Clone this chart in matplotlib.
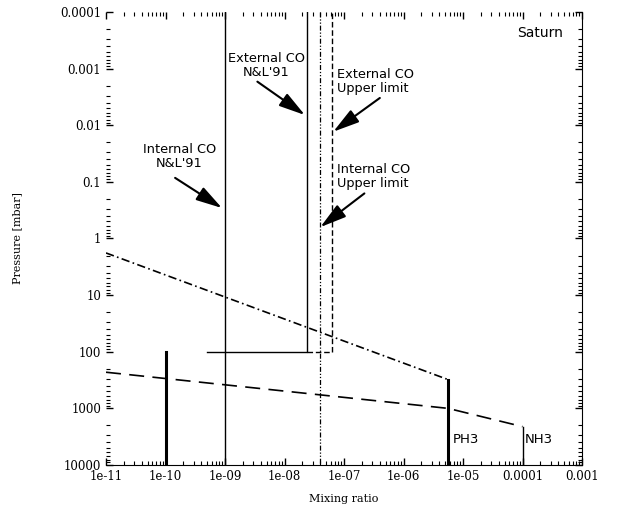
import matplotlib
matplotlib.use("Agg")
import matplotlib.pyplot as plt
from matplotlib.ticker import FixedLocator, LogLocator, NullFormatter

# profile lines (mixing ratio, pressure in mbar)
ph3_x = [1e-11, 5.6e-6, 5.6e-6]
ph3_p = [1.8, 310, 10000]
nh3_x = [1e-11, 5.6e-6, 1e-4]
nh3_p = [230, 1000, 2100]
nh3_vert_x = [1e-4, 1e-4]
nh3_vert_p = [2100, 10000]

# CO profiles
int_nl_x = [1e-9, 1e-9]
int_nl_p = [1e-4, 1e4]
ext_nl_x = [5e-10, 2.4e-8, 2.4e-8]
ext_nl_p = [100, 100, 1e-4]
ext_up_x = [2.4e-8, 6.3e-8, 6.3e-8]
ext_up_p = [100, 100, 1e-4]
int_up_x = [4e-8, 4e-8]
int_up_p = [1e-4, 1e4]
bar_x = [1e-10, 1e-10]
bar_p = [100, 10000]

xticks = [1e-11, 1e-10, 1e-9, 1e-8, 1e-7, 1e-6, 1e-5, 1e-4, 1e-3]
xlabels = ["1e-11", "1e-10", "1e-09", "1e-08", "1e-07", "1e-06", "1e-05", "0.0001", "0.001"]
yticks = [1e-4, 1e-3, 1e-2, 1e-1, 1, 10, 100, 1000, 10000]
ylabels = ["0.0001", "0.001", "0.01", "0.1", "1", "10", "100", "1000", "10000"]

fig = plt.figure(figsize=(6.17, 5.12), dpi=100)
ax = fig.add_axes([0.1718, 0.0918, 0.7715, 0.8848])

ax.plot(ph3_x[:2], ph3_p[:2], color="black", lw=1.2, ls=(0, (5, 2, 1, 2)))
ax.plot(ph3_x[1:], ph3_p[1:], color="black", lw=2.2)
ax.plot(nh3_x, nh3_p, color="black", lw=1.2, ls=(0, (9, 5)))
ax.plot(nh3_vert_x, nh3_vert_p, color="black", lw=1.0)

ax.plot(int_nl_x, int_nl_p, color="black", lw=1.0)
ax.plot(ext_nl_x, ext_nl_p, color="black", lw=1.0)
ax.plot(ext_up_x, ext_up_p, color="black", lw=1.0, ls=(0, (4, 2)))
ax.plot(int_up_x, int_up_p, color="black", lw=0.9, ls=(0, (4, 1.5, 1, 1.5, 1, 1.5)))
ax.plot(bar_x, bar_p, color="black", lw=2.2)

ax.set_xscale("log")
ax.set_yscale("log")
ax.set_xlim(1e-11, 1e-3)
ax.set_ylim(1e4, 1e-4)

ax.xaxis.set_major_locator(FixedLocator(xticks))
ax.set_xticklabels(xlabels)
ax.yaxis.set_major_locator(FixedLocator(yticks))
ax.set_yticklabels(ylabels)
ax.xaxis.set_minor_locator(LogLocator(base=10, subs=range(2, 10), numticks=20))
ax.yaxis.set_minor_locator(LogLocator(base=10, subs=range(2, 10), numticks=20))
ax.xaxis.set_minor_formatter(NullFormatter())
ax.yaxis.set_minor_formatter(NullFormatter())

ax.tick_params(which="both", direction="in", top=True, right=True, labelsize=8.5)
ax.tick_params(which="major", length=5, width=1)
ax.tick_params(which="minor", length=3, width=0.8)
for lab in ax.get_xticklabels() + ax.get_yticklabels():
    lab.set_family("DejaVu Serif")
ax.spines["top"].set_visible(False)
ax.spines["left"].set_visible(False)

ax.set_xlabel("Mixing ratio", fontsize=8, family="DejaVu Serif", labelpad=8)
ax.set_ylabel("Pressure [mbar]", fontsize=8, family="DejaVu Serif", labelpad=27)

arrow = dict(arrowstyle="-|>,head_length=1.6,head_width=0.45", color="black", lw=1.5, shrinkA=0, shrinkB=0)

ax.text(1.7e-10, 0.036, "Internal CO\nN&L'91", ha="center", va="center", fontsize=9.3, linespacing=1.1)
ax.annotate("", xy=(8.9e-10, 0.29), xytext=(1.45e-10, 0.085), arrowprops=arrow)

ax.text(4.9e-9, 8.7e-4, "External CO\nN&L'91", ha="center", va="center", fontsize=9.3, linespacing=1.1)
ax.annotate("", xy=(2.2e-8, 6.6e-3), xytext=(3.5e-9, 1.7e-3), arrowprops=arrow)

ax.text(7.6e-8, 1.66e-3, "External CO\nUpper limit", ha="left", va="center", fontsize=9.3, linespacing=1.1)
ax.annotate("", xy=(6.6e-8, 0.013), xytext=(4.0e-7, 3.3e-3), arrowprops=arrow)

ax.text(7.6e-8, 0.079, "Internal CO\nUpper limit", ha="left", va="center", fontsize=9.3, linespacing=1.1)
ax.annotate("", xy=(4e-8, 0.63), xytext=(2.2e-7, 0.16), arrowprops=arrow)

ax.text(0.912, 0.954, "Saturn", transform=ax.transAxes, ha="center", va="center", fontsize=10)
ax.text(6.6e-6, 3600, "PH3", ha="left", va="center", fontsize=9.5)
ax.text(1.1e-4, 3600, "NH3", ha="left", va="center", fontsize=9.5)

fig.savefig("out.png", dpi=100)
